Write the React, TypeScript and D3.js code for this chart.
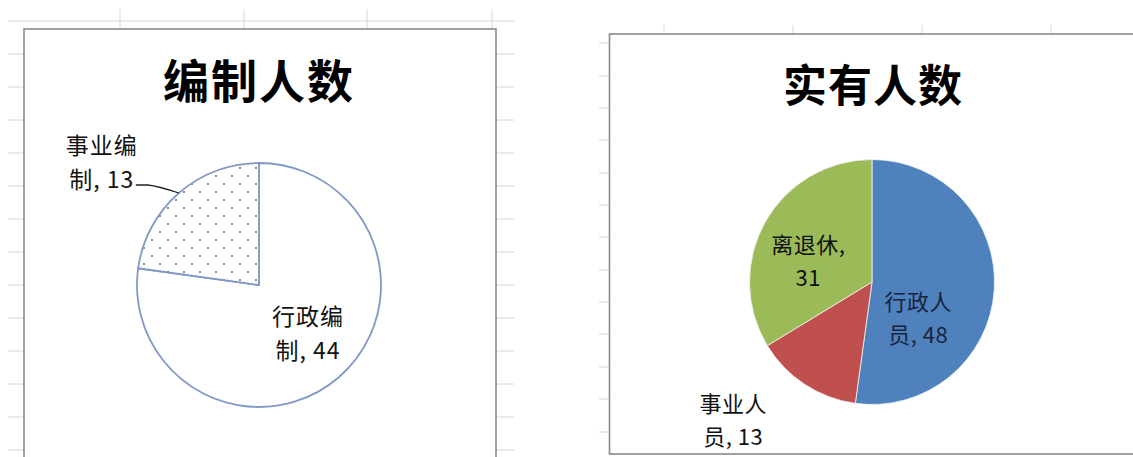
import { useEffect, useRef } from 'react';
import * as d3 from 'd3';

// 编制人数
const staffCats = ['行政编制', '事业编制'];
const staffVals = [44, 13];
// 实有人数
const actualCats = ['行政人员', '事业人员', '离退休'];
const actualVals = [48, 13, 31];
const actualColors = ['#4f81bd', '#c0504d', '#9bbb59'];

// excel sheet grid rows (y) / columns (x) visible around the charts
const leftRows = [54, 87, 120, 153, 186, 219, 252, 285, 318, 351, 384, 417, 450];
const leftCols = [120, 244, 367, 492];
const rightRows = [43, 76, 108, 140, 173, 205, 237, 270, 302, 334, 367, 399, 432];
const rightCols = [664, 793, 922, 1051];

const W = 1133, H = 457;
const FONT = '"Noto Sans CJK SC", "Noto Sans", sans-serif';

function wrapLabel(cat: string, v: number): [string, string] {
  if (cat.length <= 3) return [cat + ',', String(v)];
  return [cat.slice(0, 3), `${cat.slice(3)}, ${v}`];
}

export default function App() {
  const ref = useRef<SVGSVGElement | null>(null);
  useEffect(() => {
    const svg = d3.select(ref.current!);
    svg.selectAll('*').remove();
    svg.append('rect').attr('width', W).attr('height', H).attr('fill', '#fff');

    const defs = svg.append('defs');
    const pat = defs.append('pattern').attr('id', 'dots').attr('patternUnits', 'userSpaceOnUse')
      .attr('width', 16).attr('height', 16).attr('x', 4).attr('y', 2);
    pat.append('rect').attr('width', 16).attr('height', 16).attr('fill', '#fff');
    pat.append('circle').attr('cx', 1).attr('cy', 1).attr('r', 0.9).attr('fill', '#555');
    pat.append('circle').attr('cx', 9).attr('cy', 9).attr('r', 0.9).attr('fill', '#555');

    // sheet grid
    const grid = svg.append('g').attr('stroke', '#d6d6d6').attr('stroke-width', 1);
    grid.append('line').attr('x1', 8).attr('x2', 515).attr('y1', 21).attr('y2', 21);
    grid.selectAll('.lc').data(leftCols).enter().append('line')
      .attr('x1', (d) => d).attr('x2', (d) => d).attr('y1', 9).attr('y2', 29);
    grid.selectAll('.lr').data(leftRows).enter().append('g').each(function (d) {
      const g = d3.select(this);
      g.append('line').attr('x1', 8).attr('x2', 24).attr('y1', d).attr('y2', d);
      g.append('line').attr('x1', 496).attr('x2', 514).attr('y1', d).attr('y2', d);
    });
    grid.selectAll('.rc').data(rightCols).enter().append('line')
      .attr('x1', (d) => d).attr('x2', (d) => d).attr('y1', 25).attr('y2', 34);
    grid.selectAll('.rr').data(rightRows).enter().append('line')
      .attr('x1', 599).attr('x2', 609).attr('y1', (d) => d).attr('y2', (d) => d);

    // chart frames
    svg.append('rect').attr('x', 24).attr('y', 29).attr('width', 472).attr('height', H)
      .attr('fill', '#fff').attr('stroke', '#8a8a8a').attr('stroke-width', 1.6);
    svg.append('rect').attr('x', 609.5).attr('y', 34).attr('width', 540).attr('height', 420)
      .attr('fill', '#fff').attr('stroke', '#8a8a8a').attr('stroke-width', 1.6);

    const pie = d3.pie<number>().sort(null).startAngle(0).endAngle(2 * Math.PI);

    // ---- left: 编制人数
    {
      const cx = 259, cy = 285, r = 122;
      const g = svg.append('g').attr('transform', `translate(${cx},${cy})`);
      const arcs = pie(staffVals);
      const arc = d3.arc<d3.PieArcDatum<number>>().innerRadius(0).outerRadius(r);
      g.selectAll('path').data(arcs).enter().append('path')
        .attr('d', arc as any)
        .attr('fill', (_, i) => (i === 1 ? 'url(#dots)' : '#fff'))
        .attr('stroke', '#8299c6').attr('stroke-width', 1.8).attr('stroke-linejoin', 'round');

      svg.append('text').attr('x', cx).attr('y', 78).attr('text-anchor', 'middle')
        .attr('dominant-baseline', 'central').attr('font-family', FONT).attr('font-weight', 700)
        .attr('font-size', 46).attr('letter-spacing', 2).attr('fill', '#000').text('编制人数');

      const inner = d3.arc<d3.PieArcDatum<number>>().innerRadius(r * 0.55).outerRadius(r * 0.55);
      const outer = d3.arc<d3.PieArcDatum<number>>().innerRadius(r * 1.5).outerRadius(r * 1.5);
      const edge = d3.arc<d3.PieArcDatum<number>>().innerRadius(r).outerRadius(r);
      const nudges = [[5, -4], [-37, 14]];
      arcs.forEach((a, i) => {
        const [px, py] = (i === 0 ? inner : outer).centroid(a);
        const lx = px + nudges[i][0], ly = py + nudges[i][1];
        const lines = wrapLabel(staffCats[i], staffVals[i]);
        const t = g.append('text').attr('text-anchor', 'middle').attr('font-family', FONT)
          .attr('font-size', 23).attr('letter-spacing', 1).attr('fill', '#111');
        lines.forEach((s, k) => t.append('tspan').attr('x', lx).attr('y', ly + (k - 0.5) * 34)
          .attr('dominant-baseline', 'central').text(s));
        if (i === 1) {
          const [ex, ey] = edge.centroid(a);
          const sx = lx + 34, sy = ly + 24;
          g.append('path').attr('d', `M${sx},${sy} L${sx + 12},${sy} Q${sx + 22},${sy + 1} ${ex},${ey}`)
            .attr('fill', 'none').attr('stroke', '#222').attr('stroke-width', 1.3);
        }
      });
    }

    // ---- right: 实有人数
    {
      const cx = 872, cy = 282, r = 122.5;
      const g = svg.append('g').attr('transform', `translate(${cx},${cy})`);
      const arcs = pie(actualVals);
      const arc = d3.arc<d3.PieArcDatum<number>>().innerRadius(0).outerRadius(r);
      g.selectAll('path').data(arcs).enter().append('path')
        .attr('d', arc as any)
        .attr('fill', (_, i) => actualColors[i])
        .attr('stroke', '#f4f4f4').attr('stroke-width', 0.8);

      svg.append('text').attr('x', cx + 1).attr('y', 83).attr('text-anchor', 'middle')
        .attr('dominant-baseline', 'central').attr('font-family', FONT).attr('font-weight', 700)
        .attr('font-size', 44).attr('letter-spacing', 1).attr('fill', '#000').text('实有人数');

      const inner = d3.arc<d3.PieArcDatum<number>>().innerRadius(r * 0.55).outerRadius(r * 0.55);
      const outer = d3.arc<d3.PieArcDatum<number>>().innerRadius(r * 1.5).outerRadius(r * 1.5);
      const nudges = [[-21, 30], [-38, -17], [-5, 11]];
      arcs.forEach((a, i) => {
        const [px, py] = (i === 1 ? outer : inner).centroid(a);
        const lx = px + nudges[i][0], ly = py + nudges[i][1];
        const lines = wrapLabel(actualCats[i], actualVals[i]);
        const t = g.append('text').attr('text-anchor', 'middle').attr('font-family', FONT)
          .attr('font-size', 22).attr('letter-spacing', 0.5).attr('fill', i === 0 ? '#1a2340' : '#111');
        lines.forEach((s, k) => t.append('tspan').attr('x', lx).attr('y', ly + (k - 0.5) * 33)
          .attr('dominant-baseline', 'central').text(s));
      });
    }
  }, []);
  return (
    <svg ref={ref} width={W} height={H}
      style={{ position: 'absolute', left: 0, top: 0, display: 'block' }} />
  );
}
